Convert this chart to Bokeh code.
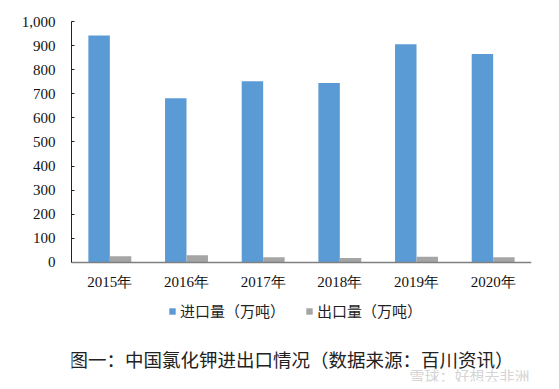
from bokeh.plotting import figure
from bokeh.models import (ColumnDataSource, FactorRange, Range1d, Legend, LegendItem,
                          NumeralTickFormatter, Label, FixedTicker, Span)
from bokeh.core.properties import value
from bokeh.transform import dodge
from bokeh.embed import file_html
from bokeh.resources import INLINE

years = ["2015年", "2016年", "2017年", "2018年", "2019年", "2020年"]
imports = [942, 682, 752, 745, 906, 865]
exports = [26, 30, 22, 19, 24, 22]
series_names = ["进口量（万吨）", "出口量（万吨）"]
y_ticks = [0, 100, 200, 300, 400, 500, 600, 700, 800, 900, 1000]
zeros = [0] * len(years)

src = ColumnDataSource(dict(year=years, imp=imports, exp=exports, zero=zeros))

SERIF = "Liberation Serif"
CJK = "Noto Sans CJK SC"

p = figure(width=553, height=385, x_range=FactorRange(*years), y_range=Range1d(-494, 1000),
           output_backend="svg", toolbar_location=None,
           min_border_left=71, min_border_right=22, min_border_top=21, min_border_bottom=4)
p.outline_line_color = None
p.grid.grid_line_color = None
p.background_fill_color = "white"
p.border_fill_color = "white"
p.xaxis.visible = False

r1 = p.vbar(x=dodge("year", -0.14, range=p.x_range), top="imp", bottom=0, width=0.28, source=src,
            fill_color="#5B9BD5", line_color=None)
r2 = p.vbar(x=dodge("year", 0.14, range=p.x_range), top="exp", bottom=0, width=0.28, source=src,
            fill_color="#A5A5A5", line_color=None)

p.add_layout(Span(location=0, dimension="width", line_color="#7f7f7f", line_width=1.5))

p.text(x="year", y="zero", text="year", source=src, y_offset=20,
       text_align="center", text_baseline="middle",
       text_font=value(SERIF), text_font_size="15px", text_color="#111111")

p.yaxis.ticker = FixedTicker(ticks=y_ticks)
p.yaxis.bounds = (0, 1000)
p.yaxis.formatter = NumeralTickFormatter(format="0,0")
p.yaxis.major_tick_in = 3
p.yaxis.major_tick_out = 0
p.yaxis.minor_tick_line_color = None
p.yaxis.axis_line_color = "#222222"
p.yaxis.major_tick_line_color = "#222222"
p.yaxis.major_label_text_font = SERIF
p.yaxis.major_label_text_font_size = "15px"
p.yaxis.major_label_text_color = "#111111"
p.yaxis.major_label_standoff = 16

legend = Legend(items=[LegendItem(label=series_names[0], renderers=[r1]),
                       LegendItem(label=series_names[1], renderers=[r2])],
                orientation="horizontal", location=(97, 60),
                glyph_width=8, glyph_height=8, label_standoff=4, spacing=20,
                padding=0, margin=0, border_line_color=None, background_fill_alpha=0,
                label_text_font=CJK, label_text_font_size="15px",
                label_text_color="#222222", label_height=16)
p.add_layout(legend, "center")

cap = Label(x=220, y=23, x_units="screen", y_units="screen",
            text="图一：中国氯化钾进出口情况（数据来源：百川资讯）",
            text_font=CJK, text_font_size="18.5px", text_color="#222222",
            text_align="center", text_baseline="middle")
p.add_layout(cap)

wm = Label(x=458, y=6, x_units="screen", y_units="screen",
           text="雪球：好想去非洲", text_font=CJK, text_font_size="15px",
           text_color="#c8c8c8", text_alpha=0.8,
           text_align="right", text_baseline="middle")
p.add_layout(wm)

open("out.html", "w").write(file_html(p, INLINE))
